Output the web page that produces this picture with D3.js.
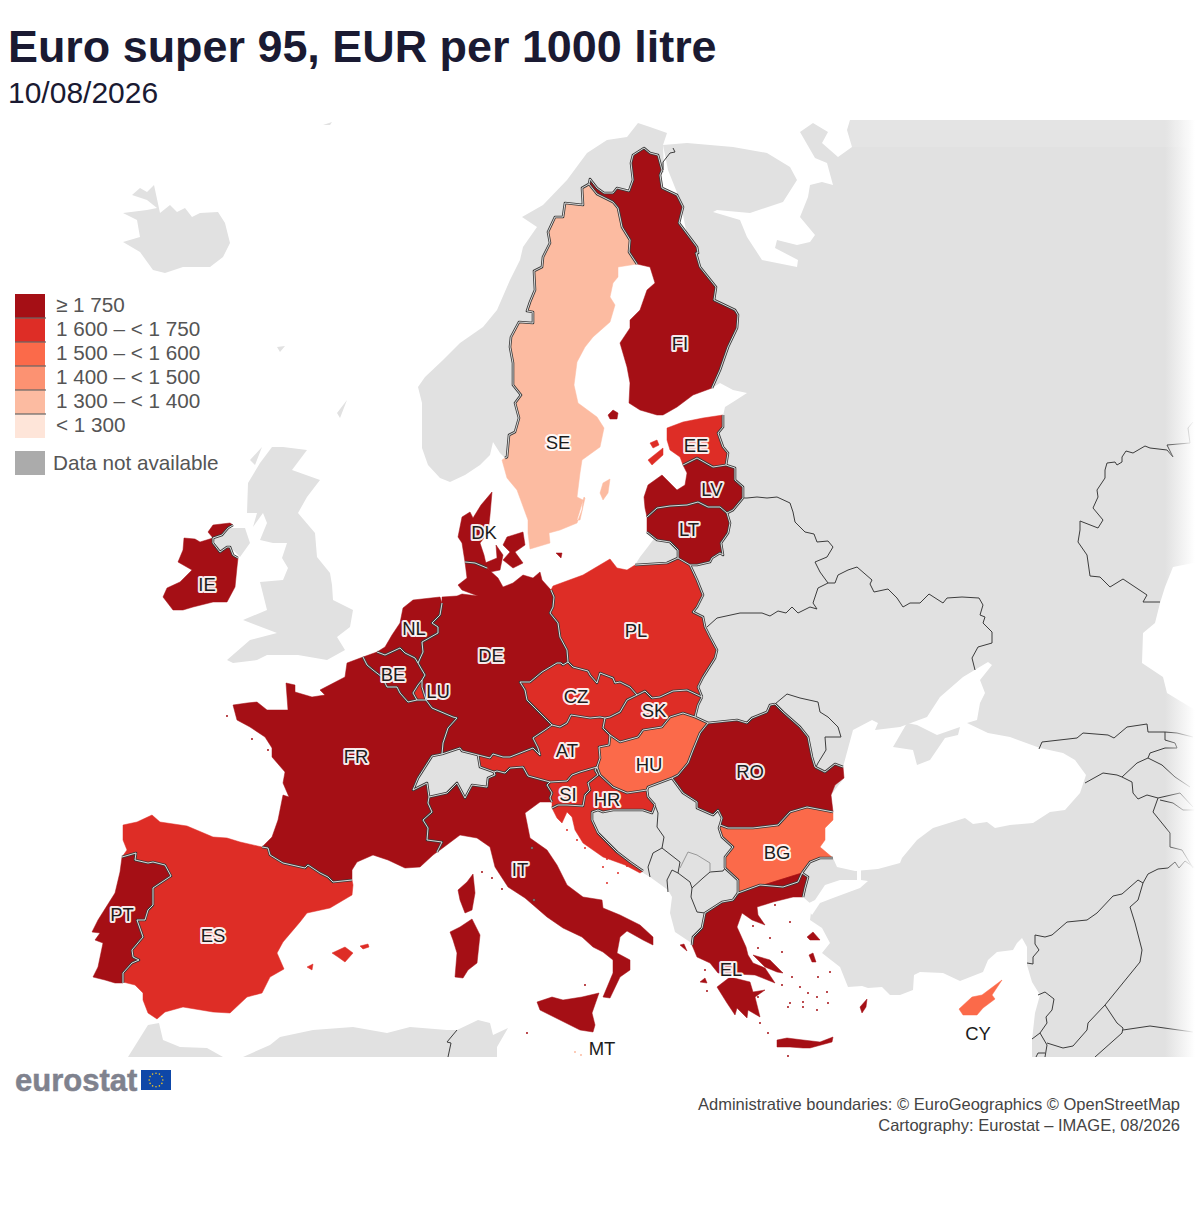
<!DOCTYPE html>
<html>
<head>
<meta charset="utf-8">
<script src="https://cdn.jsdelivr.net/npm/d3@7"></script>
<style>
  html, body { margin: 0; background: #fff; }
  text { font-family: "Liberation Sans", Arial, sans-serif; }
</style>
</head>
<body>
<div id="vis"></div>
<script>
const codes  = ["AT","BE","BG","CY","CZ","DE","DK","EE","EL","ES","FI","FR","HR","HU","IE","IT","LT","LU","LV","MT","NL","PL","PT","RO","SE","SI","SK"];
const prices = [1680,1770,1520,1530,1660,1850,1900,1700,1820,1620,1830,1800,1640,1550,1760,1790,1755,1650,1760,1340,1950,1640,1770,1760,1380,1650,1670];

const breaks = [1300,1400,1500,1600,1750];
const classColours = ["#fee5d9","#fcbba1","#fc9272","#fb6a4a","#de2d26","#a50f15"];
const legendLabels = ["≥ 1 750","1 600 – < 1 750","1 500 – < 1 600","1 400 – < 1 500","1 300 – < 1 400","< 1 300"];

// map outlines in the projected map units of the sheet
const FI_NO = [[589,184],[590,179],[597,188],[604,193],[613,193],[617,188],[629,191],[633,180],[631,163],[633,155],[644,148],[650,153],[658,155],[662,170]];
const FI_RU = [[662,170],[660,175],[662,188],[677,195],[683,207],[679,223],[697,247],[698,253],[696,253],[700,267],[708,277],[716,287],[714,300],[735,310],[738,315],[737,328],[728,347],[720,370],[712,388]];
const SE_FI = [[589,184],[597,194],[613,202],[618,208],[622,227],[630,240],[629,252],[637,264]];
const SE_NO = [[589,184],[582,188],[583,205],[565,203],[563,217],[555,217],[548,232],[550,243],[543,257],[542,267],[534,271],[535,290],[530,302],[527,311],[533,312],[533,323],[519,322],[511,337],[510,347],[513,363],[513,385],[521,395],[515,403],[519,418],[515,432],[509,435],[507,457],[505,458]];
const EE_RU = [[723,415],[723,427],[718,433],[723,447],[728,453],[726,465]];
const EE_LV = [[726,465],[713,467],[697,458],[683,465]];
const LV_RU = [[726,465],[735,468],[735,480],[743,487],[743,498]];
const LV_BY = [[743,498],[733,510],[727,513]];
const LV_LT = [[727,513],[720,507],[708,507],[698,502],[687,505],[670,506],[657,508],[647,517]];
const LT_RU = [[647,532],[657,540],[670,542],[678,550],[678,558]];
const LT_PL = [[678,558],[690,565]];
const LT_BY = [[690,565],[697,565],[710,562],[712,558],[720,553],[723,555],[721,543],[728,533],[730,523],[727,513]];
const PL_RU = [[635,565],[667,563],[678,558]];
const PL_EAST = [[690,565],[697,580],[703,595],[697,607],[693,612],[703,617],[705,627],[710,637],[717,650],[715,658],[703,677],[698,687],[702,697]];
const PL_SK = [[702,697],[687,690],[673,691],[660,697],[652,698],[645,691],[637,695]];
const PL_CZ = [[637,695],[630,687],[620,682],[615,683],[613,678],[600,673],[597,683],[590,675],[588,671],[573,667],[568,662]];
const PL_DE = [[568,662],[567,650],[560,637],[558,623],[550,613],[553,607],[554,597],[551,590]];
const DE_DK = [[465,562],[475,563],[487,568]];
const DE_NL = [[442,603],[440,615],[432,623],[438,627],[438,633],[422,642],[423,652],[418,663]];
const DE_BE = [[418,663],[422,670],[425,675],[422,680]];
const DE_LU = [[422,680],[422,687],[426,700]];
const DE_FR = [[426,700],[432,708],[453,717],[457,718],[448,728],[443,743],[442,754]];
const DE_CH = [[442,754],[460,748],[462,751],[478,755]];
const DE_AT = [[478,755],[490,758],[493,754],[503,757],[510,757],[533,748],[540,755],[538,748],[533,738],[545,730],[552,725]];
const DE_CZ = [[552,725],[540,713],[527,700],[525,690],[520,682],[530,682],[542,672],[557,663],[561,663],[563,665],[568,662]];
const CZ_AT = [[552,725],[560,727],[567,723],[571,715],[590,718],[600,717],[605,718]];
const CZ_SK = [[605,718],[610,717],[620,712],[627,700],[637,695]];
const SK_AT = [[605,718],[603,728],[610,735]];
const SK_HU = [[610,735],[620,742],[638,737],[643,730],[662,727],[670,717],[683,713],[695,717]];
const SK_UA = [[702,697],[698,705],[695,717]];
const AT_HU = [[610,735],[609,745],[599,747],[600,758],[597,767]];
const AT_SI = [[597,767],[580,772],[572,775],[567,781],[550,782]];
const AT_IT = [[550,782],[528,776],[523,767],[510,768],[505,773],[497,771],[494,772]];
const AT_CH = [[494,772],[480,767],[478,755]];
const HU_UA = [[695,717],[708,723]];
const HU_RO = [[708,723],[700,733],[693,750],[688,763],[678,775],[672,778]];
const HU_RS = [[672,778],[648,787],[647,790]];
const HU_HR = [[647,790],[627,793],[613,787],[600,775],[597,767]];
const SI_HR = [[597,767],[595,770],[598,775],[588,783],[590,790],[585,795],[583,806],[567,805],[558,805],[552,808]];
const IT_SI = [[550,782],[547,785],[552,793],[550,798],[552,802]];
const HR_RS = [[647,790],[648,797],[655,805]];
const HR_BA = [[655,805],[652,813],[643,810],[633,810],[613,810],[603,812],[598,810],[592,812],[592,820],[598,833],[617,852],[630,862],[643,871]];
const FR_IT = [[429,797],[428,803],[432,812],[423,820],[428,828],[427,840],[442,842],[437,852]];
const CH_IT = [[429,797],[447,793],[457,783],[465,798],[472,785],[487,787],[488,778],[495,775],[494,772]];
const CH_FR = [[429,797],[427,783],[413,790],[418,778],[432,756],[442,754]];
const BE_NL = [[377,652],[385,655],[400,648],[405,653],[415,658],[418,663]];
const BE_FR = [[363,657],[367,665],[373,670],[382,677],[387,687],[397,687],[400,693],[408,702],[417,700]];
const BE_LU = [[422,680],[418,685],[413,693],[417,700]];
const FR_LU = [[426,700],[417,700]];
const FR_ES = [[262,847],[268,848],[270,855],[283,863],[305,868],[308,865],[320,873],[328,877],[333,882],[352,880]];
const PT_ES = [[123,983],[123,973],[132,963],[139,960],[133,957],[132,950],[143,937],[137,920],[145,920],[148,910],[153,905],[153,888],[171,876],[165,865],[153,862],[148,863],[135,860],[136,853],[122,857]];
const IE_UK = [[233,525],[228,528],[222,535],[213,538],[213,543],[220,552],[227,547],[230,547],[233,555],[238,558]];
const RO_UA = [[708,723],[737,720],[747,723],[752,718],[767,712],[770,705],[775,704]];
const RO_MD = [[775,704],[783,712],[800,727],[808,737],[812,757],[815,767]];
const RO_UA2 = [[815,767],[825,772],[835,764],[843,767]];
const RO_BG = [[720,825],[728,828],[753,828],[778,825],[790,812],[807,807],[833,812]];
const RO_RS = [[672,778],[683,793],[697,802],[697,808],[713,815],[718,810],[722,818],[720,825]];
const BG_TR = [[833,858],[820,858],[810,862],[802,873]];
const BG_GR = [[802,873],[798,882],[783,887],[760,885],[738,893]];
const BG_MK = [[738,893],[738,880],[725,868]];
const BG_RS = [[725,868],[725,857],[733,847],[722,837],[719,828],[720,825]];
const EL_MK = [[738,893],[733,900],[722,902],[705,913]];
const EL_AL = [[705,913],[702,928],[693,937],[692,945]];
const EL_TR = [[803,897],[805,888],[808,877],[802,873]];

const coastFI = [[712,388],[693,395],[677,407],[663,415],[657,415],[640,410],[629,403],[630,383],[627,367],[620,343],[630,328],[630,320],[640,310],[647,290],[655,283],[650,267],[637,264]];
const coastSE = [[505,458],[502,460],[507,478],[517,490],[528,520],[528,533],[530,549],[550,543],[549,533],[560,530],[577,523],[582,510],[583,500],[577,497],[580,473],[582,460],[600,447],[604,428],[597,417],[578,403],[574,385],[577,362],[585,347],[593,337],[610,322],[615,305],[610,297],[613,283],[618,277],[618,267],[637,264]];
const coastEE = [[683,465],[680,457],[670,450],[667,440],[667,428],[683,422],[703,418],[723,415]];
const coastLV = [[683,465],[687,473],[685,485],[677,490],[670,483],[662,475],[648,485],[644,497],[645,508],[647,517]];
const coastLT = [[647,517],[647,532]];
const coastPL = [[551,590],[553,586],[583,575],[610,559],[617,568],[627,570],[635,565]];
const coastDE = [[551,590],[542,580],[540,572],[533,578],[523,575],[513,583],[503,587],[498,578],[487,568]];
const coastDE2 = [[465,562],[467,578],[458,585],[462,590],[478,596],[462,594],[457,596],[442,597],[442,603]];
const coastNL = [[377,652],[385,647],[392,635],[400,623],[403,608],[413,600],[440,597],[442,603]];
const coastFR = [[363,657],[347,663],[345,677],[320,690],[325,695],[312,697],[295,692],[295,685],[286,683],[288,710],[278,710],[267,710],[257,702],[247,703],[233,705],[237,720],[250,727],[265,737],[272,748],[272,757],[285,772],[283,783],[289,797],[283,795],[278,820],[272,837],[262,847]];
const coastFR2 = [[352,880],[352,870],[357,862],[373,855],[388,860],[405,868],[420,867],[433,855],[437,852]];
const coastIT = [[437,852],[440,850],[460,835],[477,838],[490,847],[495,867],[508,887],[525,898],[547,917],[563,928],[582,937],[593,947],[603,952],[613,960],[613,973],[603,997],[610,998],[620,977],[630,970],[630,960],[617,953],[620,937],[627,931],[643,940],[653,945],[653,937],[640,925],[620,915],[603,908],[602,900],[583,897],[567,885],[557,865],[547,850],[530,838],[527,823],[525,813],[540,802],[552,802]];
const coastHR = [[643,871],[640,873],[625,865],[603,857],[583,843],[575,830],[572,817],[567,812],[562,823],[557,818],[552,808]];
const coastES = [[122,857],[127,850],[123,840],[123,825],[137,822],[152,815],[160,822],[187,826],[213,837],[227,838],[240,842],[262,847]];
const coastES2 = [[352,880],[353,885],[352,895],[330,908],[307,913],[300,922],[283,942],[277,953],[284,969],[270,977],[262,993],[247,997],[230,1013],[213,1012],[183,1007],[165,1012],[157,1019],[148,1013],[143,1000],[143,993],[135,985],[123,982],[123,983]];
const coastPT = [[122,857],[120,872],[115,893],[98,920],[92,932],[100,933],[95,940],[103,943],[98,967],[93,977],[105,980],[115,983],[123,983]];
const coastIE = [[238,558],[237,567],[235,587],[227,602],[213,602],[193,607],[183,610],[173,610],[163,597],[167,588],[180,582],[192,570],[178,562],[183,550],[184,538],[195,539],[200,542],[213,538],[208,532],[213,525],[230,523],[233,525]];
const coastRO = [[843,767],[844,778],[835,785],[831,795],[833,812]];
const coastBG = [[833,812],[833,820],[825,828],[825,840],[820,847],[833,858]];
const coastEL = [[692,945],[697,957],[710,963],[718,973],[755,975],[775,983],[765,968],[753,963],[748,955],[746,947],[737,927],[742,913],[752,920],[765,925],[758,915],[757,907],[773,902],[793,897],[803,897]];
const jutland = [[465,562],[462,543],[458,537],[462,517],[470,512],[473,518],[481,505],[492,492],[490,515],[488,533],[480,543],[484,555],[487,568]];

const islands = {
  FI: [[[608,415],[613,410],[618,413],[617,419],[610,419]]],
  SE: [[[600,493],[603,483],[610,479],[608,493],[603,500]],[[577,520],[584,497],[585,498],[580,520]]],
  EE: [[[648,460],[663,448],[663,455],[652,465]],[[650,443],[657,440],[659,445],[653,448]]],
  DK: [[[496,545],[503,555],[500,570],[490,572],[485,563],[497,558]],[[507,537],[523,532],[525,545],[515,552],[523,563],[513,568],[503,560],[510,552],[503,545]],[[556,553],[562,553],[561,558]]],
  IT: [[[537,1002],[552,997],[563,1000],[582,997],[599,993],[592,1013],[595,1025],[593,1032],[580,1030],[560,1020],[540,1010]],[[450,932],[460,927],[472,919],[480,935],[477,963],[468,970],[463,978],[455,977],[457,953],[453,940]]],
  FR: [[[458,890],[467,882],[473,874],[475,893],[472,910],[465,913],[460,900]]],
  ES: [[[332,953],[345,947],[353,953],[345,962],[338,957]],[[360,946],[368,944],[369,947],[363,949]],[[307,967],[313,964],[312,970]]],
  EL: [[[717,987],[730,977],[750,982],[753,992],[765,990],[755,997],[760,1017],[748,1010],[747,1018],[737,1008],[735,1015],[727,1003]],[[753,955],[770,960],[783,973],[777,972],[765,967]],[[777,1040],[787,1038],[803,1040],[820,1042],[833,1037],[832,1042],[810,1048],[803,1048],[790,1047],[777,1047]],[[807,937],[813,932],[820,940],[810,940]],[[809,955],[813,953],[816,962],[812,962]],[[860,1007],[867,999],[866,1007],[862,1013]],[[680,945],[684,944],[687,951]],[[700,982],[705,978],[707,983]]],
  CY: [[[959,1009],[972,997],[982,995],[1002,980],[992,995],[995,999],[983,1008],[977,1015],[963,1015]]]
};

const islets = {
  EL: [[775,905],[790,922],[753,926],[758,948],[782,952],[792,977],[782,985],[790,1003],[808,993],[817,997],[803,1002],[830,972],[818,977],[827,992],[788,1007],[800,987],[803,1007],[817,1010],[828,1003],[770,938],[758,997],[760,1023],[768,1033],[788,1056],[707,991],[705,970]],
  IT: [[482,872],[492,878],[502,889],[527,1033],[585,985]],
  HR: [[607,859],[612,859],[627,866],[567,830],[577,840],[585,848],[618,873],[603,867],[607,883]],
  FR: [[227,716],[252,739],[268,750]],
  MT: [[575,1052],[581,1055]]
};

const landEast = [[850,120],[1200,120],[1200,1057],[1032,1057],[1032,1040],[1035,1013],[1040,995],[1032,982],[1027,965],[1027,947],[1022,938],[1017,943],[1013,950],[997,952],[988,960],[983,972],[960,981],[943,973],[920,972],[914,975],[913,990],[900,995],[890,995],[882,987],[868,988],[862,986],[848,987],[840,967],[822,953],[830,943],[822,928],[810,920],[812,905],[803,897],[790,893],[740,900],[705,925],[692,945],[690,942],[675,932],[670,913],[672,897],[668,890],[650,877],[630,865],[617,857],[592,836],[590,800],[600,760],[640,575],[635,565],[640,557],[647,548],[653,540],[660,525],[700,495],[705,470],[710,440],[723,416],[725,407],[733,402],[747,393],[733,390],[720,383],[712,388],[700,300],[680,200],[668,170],[663,145],[687,143],[733,147],[767,153],[790,167],[797,180],[783,202],[750,213],[717,210],[713,212],[740,220],[747,237],[762,260],[797,267],[798,260],[775,248],[777,240],[797,245],[810,242],[815,235],[800,217],[808,197],[810,185],[822,182],[833,185],[827,163],[815,158],[800,132],[813,123],[828,132],[822,143],[838,157],[852,147],[847,130]];
const landNorway = [[663,145],[667,133],[650,127],[638,123],[627,137],[607,140],[587,153],[567,180],[543,205],[522,217],[537,227],[523,247],[520,260],[510,280],[497,310],[483,327],[460,343],[443,360],[425,377],[418,387],[422,403],[422,448],[428,465],[440,478],[450,482],[465,475],[480,465],[490,455],[493,442],[500,453],[505,458],[530,400],[560,250],[600,200],[664,172]];
const landIceland = [[132,195],[140,188],[147,192],[154,185],[160,213],[170,205],[177,212],[185,208],[192,217],[200,213],[218,212],[225,223],[230,243],[223,257],[210,267],[183,267],[165,273],[153,270],[140,252],[123,242],[140,237],[137,220],[123,213],[147,210],[157,208],[147,200]];
const landBritain = [[283,447],[307,450],[292,470],[320,480],[307,497],[298,513],[315,533],[317,557],[330,573],[332,585],[333,600],[353,610],[350,627],[337,637],[345,650],[327,660],[298,655],[267,655],[257,660],[233,663],[227,660],[250,640],[277,633],[243,620],[267,610],[262,590],[260,582],[283,580],[288,568],[282,558],[287,543],[273,543],[260,540],[267,523],[263,513],[253,527],[257,513],[247,513],[248,483],[260,463],[272,447]];
const landUlster = [[213,538],[230,528],[245,528],[250,543],[240,557],[230,547],[220,552]];
const landSmall = [[[250,460],[262,447],[255,465]],[[337,413],[347,400],[340,418]],[[277,347],[285,346],[280,352]],[[323,125],[332,122],[330,125]]];
const landAfrica = [[128,1057],[148,1025],[159,1023],[163,1040],[180,1047],[207,1048],[223,1057],[243,1057],[270,1045],[280,1037],[313,1030],[353,1027],[387,1033],[410,1027],[447,1030],[457,1030],[478,1020],[490,1023],[493,1035],[508,1028],[497,1047],[497,1057]];
const landCrimea = [[893,747],[907,723],[917,725],[937,735],[960,727],[958,735],[945,738],[930,760],[917,765],[913,750]];
const landSwiss = CH_FR.concat(DE_CH, AT_CH.slice().reverse(), CH_IT.slice().reverse());
const seaBlack = [[843,767],[853,730],[872,720],[878,723],[875,730],[900,727],[927,717],[940,697],[963,677],[988,662],[992,665],[980,680],[985,693],[980,703],[977,720],[967,723],[988,733],[1010,737],[1040,748],[1063,753],[1075,760],[1086,775],[1080,793],[1065,810],[1050,812],[1033,823],[1010,825],[995,828],[987,822],[973,824],[965,818],[933,828],[917,840],[902,858],[900,863],[878,869],[855,871],[837,867],[833,858],[820,847],[825,828],[833,812],[831,795],[844,778]];
const seaMarmara = [[857,870],[861,870],[861,880],[868,881],[860,888],[833,898],[820,903],[812,915],[805,905],[815,900],[825,885],[840,880],[857,880]];
const seaCaspian = [[1205,563],[1193,563],[1173,567],[1165,587],[1160,603],[1155,623],[1143,633],[1142,663],[1163,677],[1167,693],[1195,710],[1205,712]];

// thin borders between the non-member countries
const otherBorders = [
  [[663,170],[663,162],[670,153],[675,152],[673,148]],
  [[743,498],[747,498],[757,497],[767,498],[777,497],[790,503],[793,512],[795,522],[805,532],[814,534],[817,542],[828,541],[833,547],[827,557],[815,562],[820,572],[828,583]],
  [[707,627],[717,618],[740,613],[762,613],[770,616],[778,611],[786,613],[792,607],[798,613],[810,607],[817,609],[813,603],[818,588],[828,583],[835,583],[838,575],[848,570],[857,567],[872,580],[870,584],[874,592],[888,589],[897,598],[903,607],[910,603],[920,603],[929,594],[943,603],[947,598],[962,597],[979,598],[983,605],[980,615],[985,617],[983,623],[992,632],[992,643],[978,647],[972,658],[975,670]],
  [[775,704],[787,694],[800,698],[818,702],[820,712],[828,717],[838,727],[841,737],[825,737],[826,750],[818,763],[816,767]],
  [[1193,422],[1188,428],[1190,443],[1167,445],[1173,457],[1167,450],[1150,448],[1145,446],[1133,453],[1126,451],[1122,457],[1122,462],[1117,465],[1115,462],[1107,463],[1105,470],[1105,478],[1097,490],[1098,497],[1093,508],[1103,520],[1098,528],[1080,521],[1080,530],[1078,542],[1087,555],[1090,576],[1100,577],[1110,587],[1123,579],[1147,595],[1143,602],[1160,602]],
  [[655,805],[658,813],[657,827],[664,837],[662,848],[653,853],[648,867],[650,877]],
  [[662,848],[680,862],[678,873],[672,870],[667,880],[668,892]],
  [[678,873],[690,882],[692,888],[703,878],[710,872],[723,871],[725,868]],
  [[692,888],[691,897],[697,912],[705,913]],
  [[1027,963],[1033,964],[1033,957],[1039,950],[1035,944],[1035,935],[1045,937],[1052,935],[1067,922],[1087,920],[1097,913],[1113,896],[1122,894],[1138,880],[1143,883],[1148,874],[1158,869],[1168,868],[1175,862],[1179,868],[1185,861],[1195,868]],
  [[1143,883],[1138,900],[1130,907],[1135,923],[1142,950],[1140,962],[1105,1005],[1117,1023],[1123,1028],[1122,1033],[1095,1057]],
  [[1123,1030],[1150,1026],[1193,1032]],
  [[1105,1005],[1088,1023],[1087,1030],[1073,1046],[1063,1048],[1047,1043]],
  [[1038,995],[1045,992],[1054,999],[1052,1010],[1046,1017],[1047,1023],[1040,1033],[1032,1039]],
  [[1040,1033],[1047,1045],[1045,1057]],
  [[1036,1057],[1038,1053],[1045,1053]],
  [[1039,749],[1042,742],[1077,738],[1083,733],[1108,735],[1114,738],[1127,727],[1147,724],[1148,732],[1165,732],[1177,733],[1193,737]],
  [[1085,783],[1103,773],[1117,775],[1122,777],[1132,782],[1133,793],[1138,799],[1147,795],[1158,798],[1153,812],[1170,833],[1170,847],[1182,850],[1193,868]],
  [[1122,777],[1137,763],[1148,758],[1150,753],[1165,748],[1177,748],[1175,743],[1165,740],[1165,732]],
  [[1148,758],[1162,765],[1175,777],[1190,787]],
  [[1158,798],[1180,793],[1193,807]],
  [[1160,800],[1173,803],[1183,810],[1195,810]],
  [[457,1030],[447,1042],[451,1043],[448,1057]]
];
const kosovoBorder = [[680,868],[688,852],[697,855],[710,863],[710,872]];
const microStates = [[532,848],[534,900]];

// eu borders get the double line
const memberBorders = [FI_NO,FI_RU,SE_FI,SE_NO,EE_RU,EE_LV,LV_RU,LV_BY,LV_LT,LT_RU,LT_PL,LT_BY,PL_RU,PL_EAST,PL_SK,PL_CZ,PL_DE,DE_DK,DE_NL,DE_BE,DE_LU,DE_FR,DE_CH,DE_AT,DE_CZ,CZ_AT,CZ_SK,SK_AT,SK_HU,SK_UA,AT_HU,AT_SI,AT_IT,AT_CH,HU_UA,HU_RO,HU_RS,HU_HR,SI_HR,IT_SI,HR_RS,HR_BA,FR_IT,CH_IT,CH_FR,BE_NL,BE_FR,BE_LU,FR_LU,FR_ES,PT_ES,IE_UK,RO_UA,RO_MD,RO_UA2,RO_BG,RO_RS,BG_TR,BG_GR,BG_MK,BG_RS,EL_MK,EL_AL,EL_TR];

const rev = a => a.slice().reverse();
const ring = (...parts) => { const r = parts.flat(); return r; };

const mainRings = {
  FI: ring(FI_NO, FI_RU, coastFI, rev(SE_FI)),
  SE: ring(SE_NO, coastSE, rev(SE_FI)),
  EE: ring(coastEE, EE_RU, EE_LV),
  LV: ring(coastLV, rev(LV_LT), rev(LV_BY), rev(LV_RU), EE_LV),
  LT: ring(coastLT, LT_RU, LT_PL, LT_BY, LV_LT),
  PL: ring(coastPL, PL_RU, LT_PL, PL_EAST, PL_SK, PL_CZ, PL_DE),
  DE: ring(coastDE, rev(DE_DK), coastDE2, DE_NL, DE_BE, DE_LU, DE_FR, DE_CH, DE_AT, DE_CZ, PL_DE),
  DK: jutland,
  NL: ring(coastNL, DE_NL, rev(BE_NL)),
  BE: ring(BE_NL, DE_BE, BE_LU, rev(BE_FR)),
  LU: ring(rev(BE_LU), DE_LU, FR_LU),
  FR: ring(coastFR, FR_ES, coastFR2, rev(FR_IT), CH_FR, rev(DE_FR), FR_LU, rev(BE_FR)),
  IT: ring(FR_IT, coastIT, rev(IT_SI), AT_IT, rev(CH_IT)),
  AT: ring(DE_AT, CZ_AT, SK_AT, AT_HU, AT_SI, AT_IT, AT_CH),
  CZ: ring(CZ_AT, CZ_SK, PL_CZ, rev(DE_CZ)),
  SK: ring(CZ_SK, rev(PL_SK), SK_UA, rev(SK_HU), rev(SK_AT)),
  HU: ring(SK_HU, HU_UA, HU_RO, HU_RS, HU_HR, rev(AT_HU)),
  SI: ring(rev(AT_SI), SI_HR, rev(IT_SI)),
  HR: ring(rev(SI_HR), rev(HU_HR), HR_RS, HR_BA, coastHR),
  RO: ring(RO_UA, RO_MD, RO_UA2, coastRO, rev(RO_BG), rev(RO_RS), rev(HU_RO)),
  BG: ring(RO_BG, coastBG, BG_TR, BG_GR, BG_MK, BG_RS),
  EL: ring(EL_MK, EL_AL, coastEL, EL_TR, rev(BG_GR)),
  ES: ring(coastES, FR_ES, coastES2, PT_ES),
  PT: ring(coastPT, PT_ES),
  IE: ring(coastIE, IE_UK)
};

const labelCodes = ["FI","SE","EE","LV","LT","DK","IE","NL","BE","LU","DE","PL","CZ","SK","AT","HU","RO","FR","SI","HR","BG","IT","ES","PT","EL","CY","MT"];
const labelX = [680,558,696,712,689,484,207,414,393,438,491,636,576,654,567,649,750,356,568,607,777,520,213,122,731,978,602];
const labelY = [343,442,445,489,529,532,584,628,674,691,655,630,696,710,750,764,771,756,794,799,852,869,935,914,969,1033,1048];

const colour = d3.scaleThreshold().domain(breaks).range(classColours);
const priceOf = new Map(codes.map((c, i) => [c, prices[i]]));

const W = 1200, H = 1210;
const svg = d3.select("#vis").append("svg").attr("width", W).attr("height", H).style("display", "block");
const path = d3.geoPath(d3.geoIdentity());

const defs = svg.append("defs");
defs.append("clipPath").attr("id", "mapclip").append("rect").attr("x", 0).attr("y", 120).attr("width", W).attr("height", 937);
const fade = defs.append("linearGradient").attr("id", "fade");
fade.append("stop").attr("offset", 0).attr("stop-color", "#fff").attr("stop-opacity", 0);
fade.append("stop").attr("offset", 0.85).attr("stop-color", "#fff").attr("stop-opacity", 1);

const map = svg.append("g").attr("clip-path", "url(#mapclip)");

const poly = rings => ({ type: "MultiPolygon", coordinates: rings.map(r => [r.concat([r[0]])]) });
const line = a => ({ type: "LineString", coordinates: a });

// grey land, then the seas cut out of it
map.append("path").attr("d", path(poly([landEast, landNorway, landIceland, landBritain, landUlster, landAfrica, ...landSmall]))).attr("fill", "#e1e1e1");
map.append("path").attr("d", path(poly([seaBlack, seaMarmara, seaCaspian]))).attr("fill", "#fff");
map.append("path").attr("d", path(poly([landCrimea, landSwiss]))).attr("fill", "#e1e1e1");

// member states
const memberShapes = codes.map(code => {
  const rings = (mainRings[code] ? [mainRings[code]] : []).concat(islands[code] || []);
  return { code, rings };
});
map.selectAll(".country").data(memberShapes).enter().append("path")
  .attr("class", "country")
  .attr("d", d => path(poly(d.rings)))
  .attr("fill", d => colour(priceOf.get(d.code)))
  .attr("stroke", d => colour(priceOf.get(d.code)))
  .attr("stroke-width", 0.5)
  .attr("stroke-linejoin", "round");

path.pointRadius(1);
Object.keys(islets).forEach(code => {
  map.append("path")
    .attr("d", path({ type: "MultiPoint", coordinates: islets[code] }))
    .attr("fill", colour(priceOf.get(code)));
});
map.append("path")
  .attr("d", path({ type: "MultiPoint", coordinates: microStates }))
  .attr("fill", "#e1e1e1").attr("stroke", "#444").attr("stroke-width", 0.8);

// borders
const thin = map.append("g").attr("fill", "none").attr("stroke", "#3c3c3c").attr("stroke-width", 1).attr("stroke-linejoin", "round");
otherBorders.forEach(b => thin.append("path").attr("d", path(line(b))));
thin.append("path").attr("d", path(line(kosovoBorder))).attr("stroke", "#999");

const thick = map.append("g").attr("fill", "none").attr("stroke-linejoin", "round");
memberBorders.forEach(b => thick.append("path").attr("d", path(line(b))).attr("stroke", "#3a3a3a").attr("stroke-width", 2.6));
memberBorders.forEach(b => thick.append("path").attr("d", path(line(b))).attr("stroke", "#fff").attr("stroke-width", 0.9).attr("stroke-opacity", 0.9));

// map sheet edges
map.append("rect").attr("x", 1165).attr("y", 120).attr("width", 35).attr("height", 937).attr("fill", "url(#fade)");
map.append("rect").attr("x", 850).attr("y", 120).attr("width", 350).attr("height", 27).attr("fill", "#fff").attr("opacity", 0.1);

// country labels
const labels = svg.append("g").attr("text-anchor", "middle").attr("font-size", 18.5);
const labelData = labelCodes.map((c, i) => ({ c, x: labelX[i], y: labelY[i] }));
labels.selectAll(".halo").data(labelData).enter().append("text")
  .attr("class", "halo").attr("x", d => d.x).attr("y", d => d.y + 6.5).text(d => d.c)
  .attr("fill", "none").attr("stroke", "#fff").attr("stroke-width", 4).attr("stroke-linejoin", "round").attr("stroke-opacity", 0.92);
labels.selectAll(".code").data(labelData).enter().append("text")
  .attr("class", "code").attr("x", d => d.x).attr("y", d => d.y + 6.5).text(d => d.c)
  .attr("fill", "#1c1c1c");

// titles
svg.append("text").attr("x", 8).attr("y", 62).attr("font-size", 44.9).attr("font-weight", "bold").attr("fill", "#1a1a32").text("Euro super 95, EUR per 1000 litre");
svg.append("text").attr("x", 8).attr("y", 103).attr("font-size", 30).attr("fill", "#1a1a32").text("10/08/2026");

// legend
const legend = svg.append("g");
const legendColours = classColours.slice().reverse();
const legendY = d3.scaleBand().domain(d3.range(legendLabels.length)).range([294, 438]);
legend.selectAll("rect.k").data(legendColours).enter().append("rect")
  .attr("class", "k").attr("x", 15).attr("y", (d, i) => legendY(i)).attr("width", 30).attr("height", legendY.bandwidth()).attr("fill", d => d);
legend.selectAll("line").data(d3.range(1, legendLabels.length)).enter().append("line")
  .attr("x1", 15).attr("x2", 46).attr("y1", d => legendY(d)).attr("y2", d => legendY(d)).attr("stroke", "#666").attr("stroke-width", 1.2);
legend.selectAll("text.k").data(legendLabels).enter().append("text")
  .attr("class", "k").attr("x", 56).attr("y", (d, i) => legendY(i) + 18).attr("font-size", 20.7).attr("fill", "#555").text(d => d);
legend.append("rect").attr("x", 15).attr("y", 451).attr("width", 30).attr("height", 24).attr("fill", "#ababab");
legend.append("text").attr("x", 53).attr("y", 470).attr("font-size", 20.7).attr("fill", "#555").text("Data not available");

// logo
const logo = svg.append("g");
logo.append("text").attr("x", 15).attr("y", 1091).attr("font-size", 31).attr("font-weight", "bold").attr("fill", "#7f828e").attr("stroke", "#7f828e").attr("stroke-width", 0.5).text("eurostat");
logo.append("rect").attr("x", 141).attr("y", 1070).attr("width", 30).attr("height", 20).attr("fill", "#0e47a8");
logo.selectAll("circle").data(d3.range(12)).enter().append("circle")
  .attr("cx", d => 156 + 6.8 * Math.cos(d * Math.PI / 6))
  .attr("cy", d => 1080 + 6.8 * Math.sin(d * Math.PI / 6))
  .attr("r", 0.8).attr("fill", "#e8c22c");

// credits
const credits = ["Administrative boundaries: © EuroGeographics © OpenStreetMap", "Cartography: Eurostat – IMAGE, 08/2026"];
svg.append("g").attr("text-anchor", "end").attr("font-size", 16.5).attr("fill", "#444")
  .selectAll("text").data(credits).enter().append("text")
  .attr("x", 1180).attr("y", (d, i) => 1109.5 + i * 21).text(d => d);
</script>
</body>
</html>
